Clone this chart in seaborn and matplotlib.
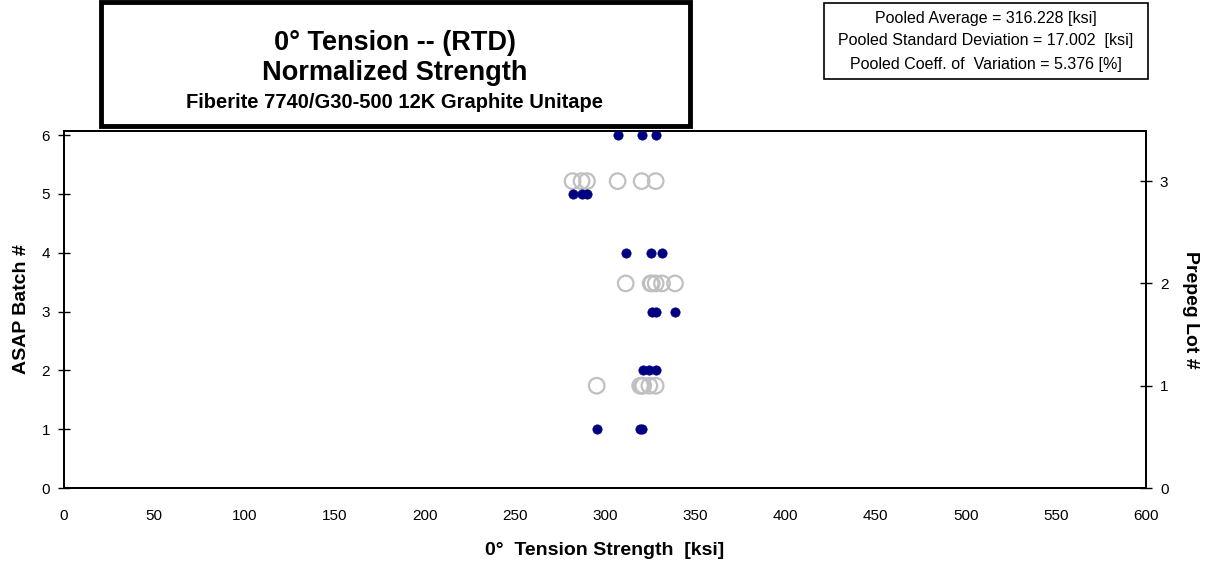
import matplotlib
matplotlib.use("Agg")
import matplotlib.pyplot as plt
import seaborn as sns
import pandas as pd
from matplotlib.patches import Rectangle

# ---- data ----
batch_ids = [1, 1, 1, 2, 2, 2, 3, 3, 3, 4, 4, 4, 5, 5, 5, 6, 6, 6]
strengths = [295.4, 319.5, 320.5, 321.2, 324.6, 328.1,
             325.9, 328.1, 338.8, 311.5, 325.3, 331.6,
             282.0, 287.0, 290.0, 307.0, 320.3, 328.1]
prepeg_lot_of_batch = [1, 1, 1, 1, 1, 1, 2, 2, 2, 2, 2, 2, 3, 3, 3, 3, 3, 3]
x_ticks = [0, 50, 100, 150, 200, 250, 300, 350, 400, 450, 500, 550, 600]
left_ticks = [0, 1, 2, 3, 4, 5, 6]
right_ticks = [0, 1, 2, 3]
title_lines = ["0° Tension -- (RTD)", "Normalized Strength",
               "Fiberite 7740/G30-500 12K Graphite Unitape"]
stats_lines = ["Pooled Average = 316.228 [ksi]",
               "Pooled Standard Deviation = 17.002  [ksi]",
               "Pooled Coeff. of  Variation = 5.376 [%]"]

df = pd.DataFrame({"strength": strengths, "batch": batch_ids,
                   "lot": prepeg_lot_of_batch})

sns.set_theme(style="white")
plt.rcParams['font.family'] = ['Liberation Sans', 'DejaVu Sans']
plt.rcParams['text.color'] = 'black'
plt.rcParams['axes.labelcolor'] = 'black'

fig = plt.figure(figsize=(12.09, 5.65), dpi=100)
ax = fig.add_axes([64 / 1209, 1 - 488 / 565, (1146 - 64) / 1209, (488 - 131) / 565])
ax2 = ax.twinx()

sns.scatterplot(data=df, x="strength", y="lot", ax=ax2, s=125,
                facecolor="none", edgecolor="#C0C0C0", linewidth=1.6,
                marker="o", zorder=2)
sns.scatterplot(data=df, x="strength", y="batch", ax=ax, s=45,
                color="#000080", edgecolor="#000080", linewidth=0.5,
                marker="o", zorder=3)

ax.set_zorder(ax2.get_zorder() + 1)
ax.patch.set_visible(False)

ax.set_xlim(0, 600)
ax.set_ylim(0, 6.07)
ax2.set_ylim(0, 3.49)
ax.set_xticks(x_ticks)
ax.set_yticks(left_ticks)
ax2.set_yticks(right_ticks)

for a in (ax, ax2):
    for s in a.spines.values():
        s.set_color("black")
        s.set_linewidth(1.3)
    a.tick_params(axis="both", direction="inout", length=8, width=1,
                  color="black", labelsize=11, labelcolor="black", pad=6)
ax.tick_params(axis="x", pad=11)

ax.set_xlabel("0°  Tension Strength  [ksi]", fontsize=14, fontweight="bold",
              labelpad=14)
ax.set_ylabel("ASAP Batch #", fontsize=14, fontweight="bold", labelpad=8)
ax2.set_ylabel("Prepeg Lot #", fontsize=14, fontweight="bold", rotation=270,
               labelpad=22)
ax.grid(False)
ax2.grid(False)

# Title box
fig.patches.append(Rectangle((101 / 1209, 1 - 126 / 565), (690 - 101) / 1209,
                             124 / 565, transform=fig.transFigure,
                             facecolor="white", edgecolor="black",
                             linewidth=3.5))
title_y = [43, 73, 103]
title_sizes = [19.5, 19.5, 14.5]
for txt, yy, fs in zip(title_lines, title_y, title_sizes):
    fig.text(395 / 1209, 1 - yy / 565, txt, ha="center", va="center",
             fontsize=fs, fontweight="bold")

# Stats box
fig.patches.append(Rectangle((824 / 1209, 1 - 79 / 565), (1148 - 824) / 1209,
                             76 / 565, transform=fig.transFigure,
                             facecolor="white", edgecolor="black",
                             linewidth=1.2))
for i, line in enumerate(stats_lines):
    fig.text(986 / 1209, 1 - (18 + 23 * i) / 565, line, ha="center",
             va="center", fontsize=11.5)

fig.savefig("out.png", dpi=100, facecolor="white")
